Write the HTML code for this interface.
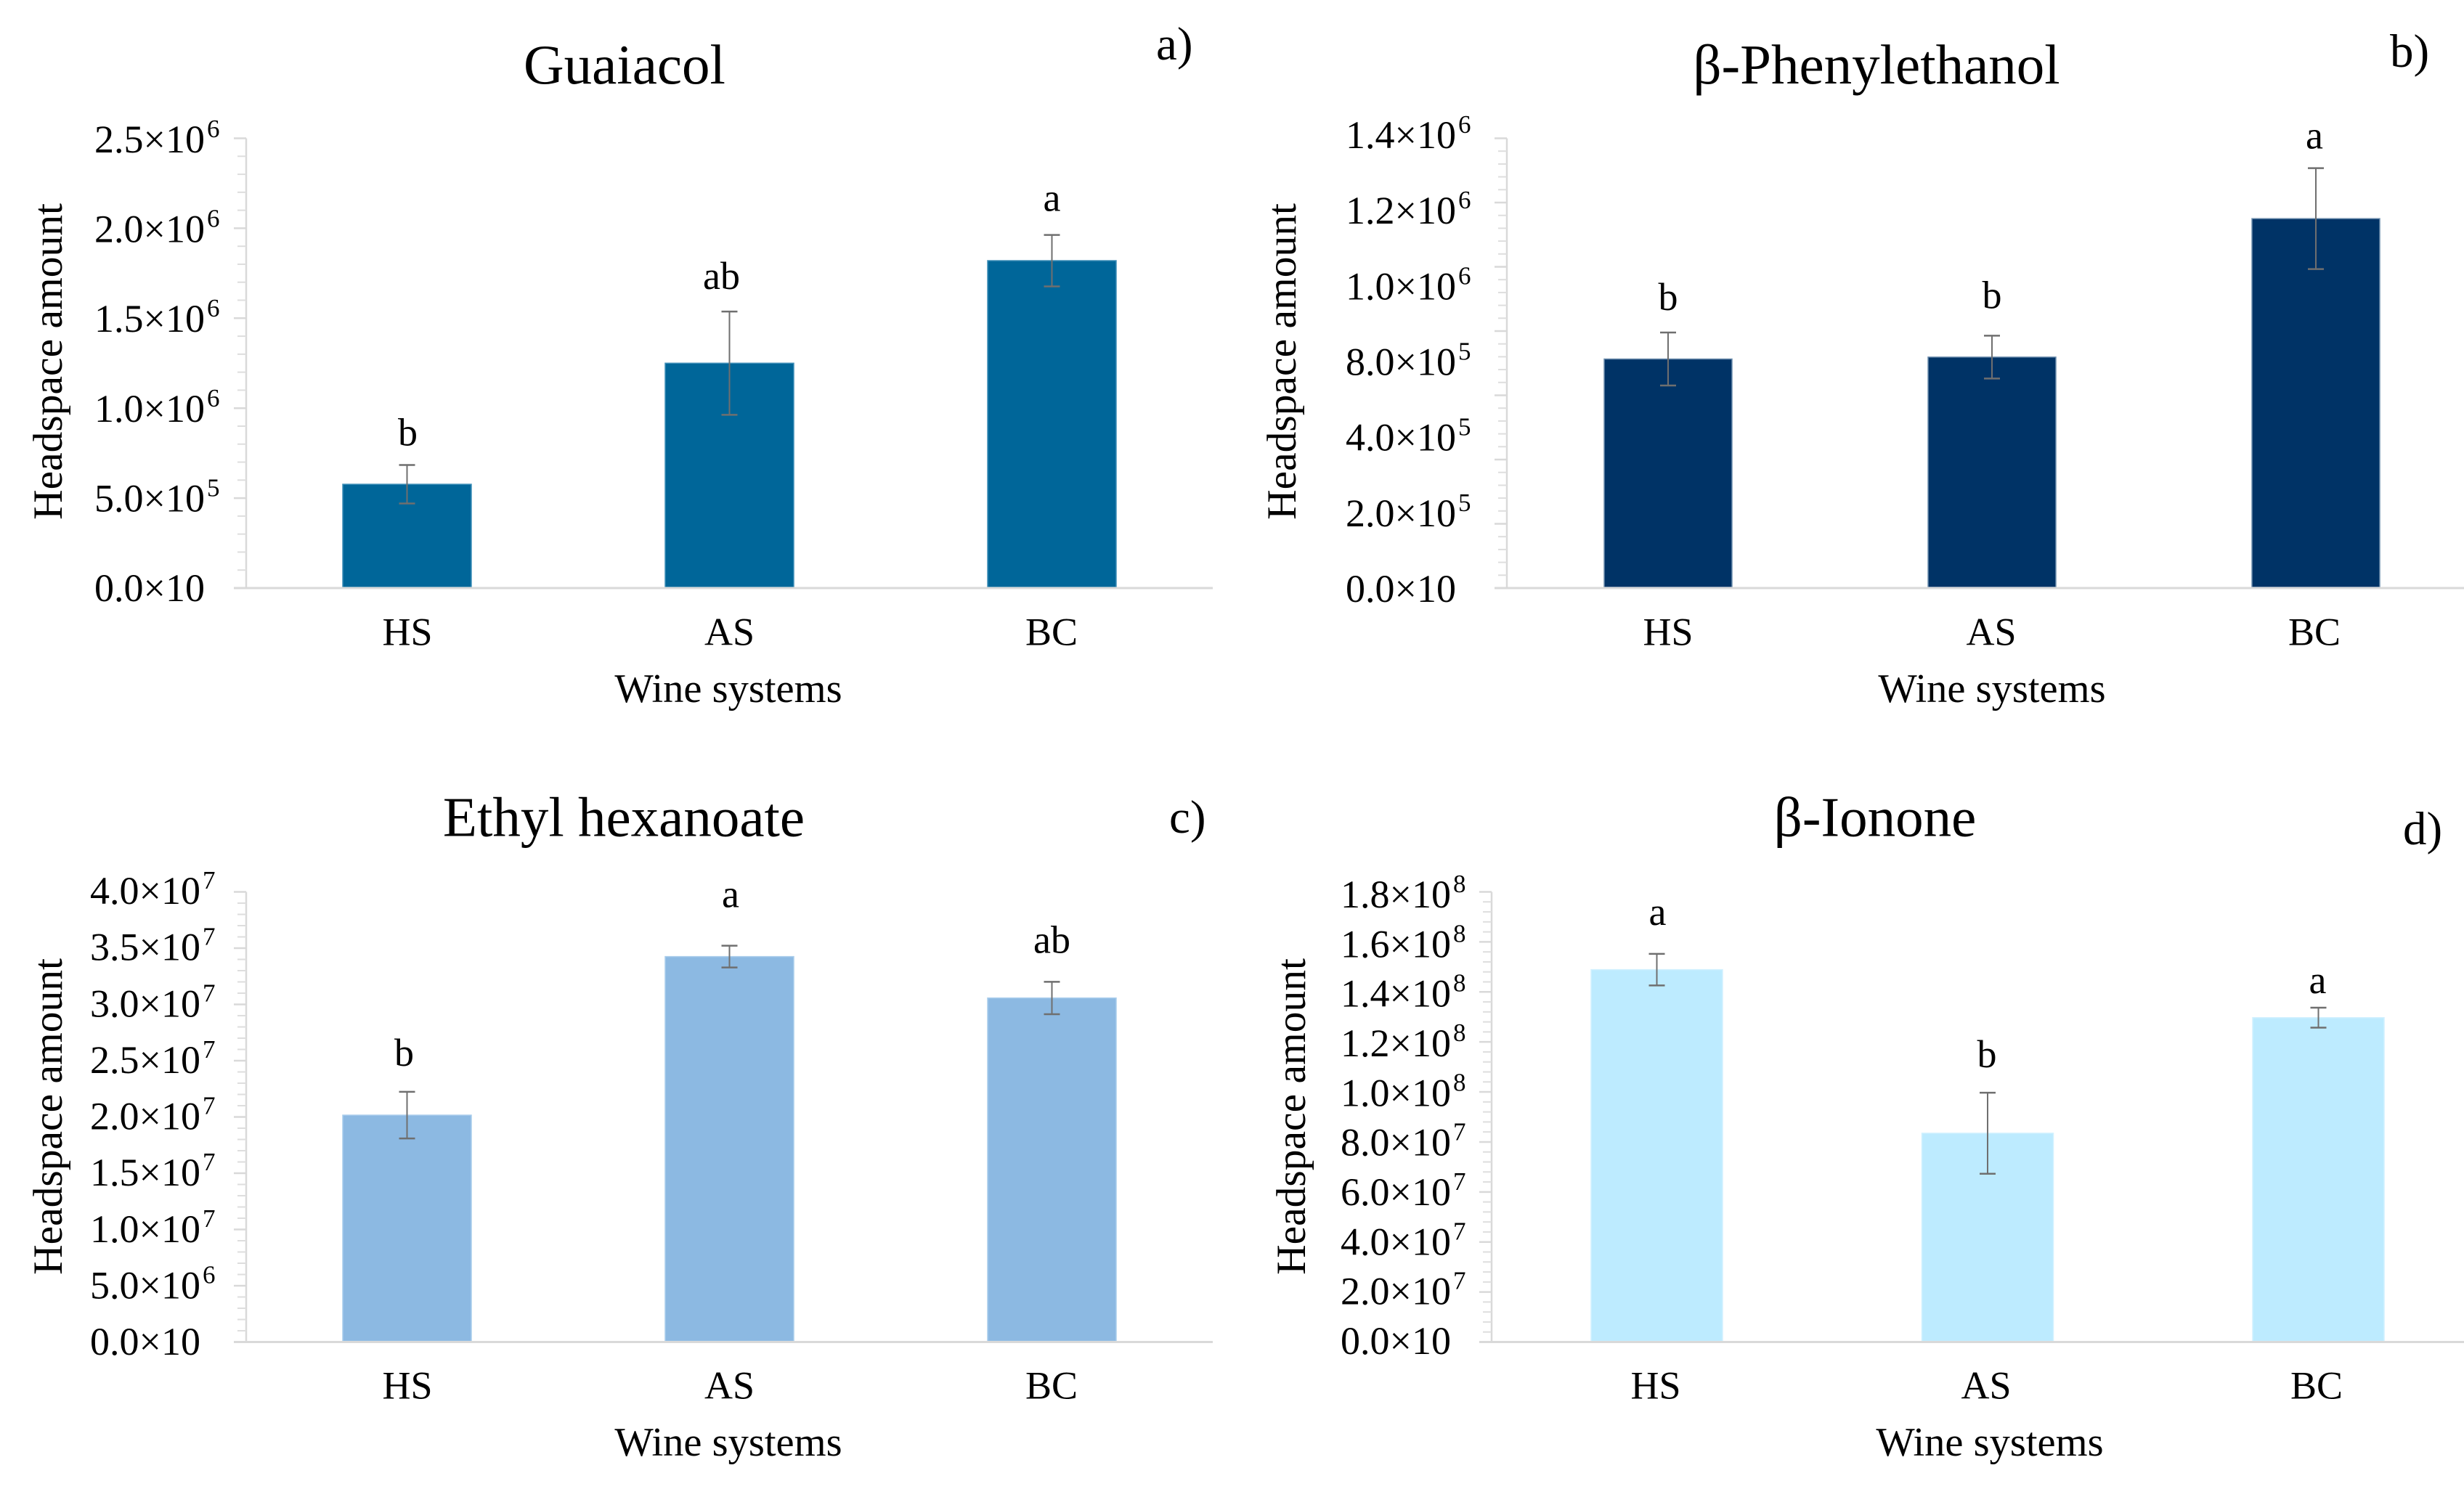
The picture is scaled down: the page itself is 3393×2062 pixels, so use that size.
<!DOCTYPE html>
<html lang="en">
<head>
<meta charset="utf-8">
<title>Headspace amount by wine system</title>
<style>
html,body{margin:0;padding:0;background:#fff;}
svg{display:block;}
text{font-family:"Liberation Serif","DejaVu Serif",serif;fill:#000;}
</style>
</head>
<body>
<svg id="figure" xmlns="http://www.w3.org/2000/svg" width="3393" height="2062" viewBox="0 0 3393 2062"></svg>
<script>
// ---- chart data ----
const categories = ['HS', 'AS', 'BC'];

const guaiacolValues = [5.77e5, 1.25e6, 1.82e6];
const guaiacolErrors = [1.07e5, 2.87e5, 1.43e5];
const guaiacolLetters = ['b', 'ab', 'a'];
const guaiacolTickValues = [0, 5e5, 1e6, 1.5e6, 2e6, 2.5e6];
const guaiacolTickLabels = ['0.0×10', '5.0×10^5', '1.0×10^6', '1.5×10^6', '2.0×10^6', '2.5×10^6'];

const phenylethanolValues = [7.13e5, 7.19e5, 1.15e6];
const phenylethanolErrors = [8.25e4, 6.67e4, 1.57e5];
const phenylethanolLetters = ['b', 'b', 'a'];
const phenylethanolTickValues = [0, 2e5, 4e5, 6e5, 8e5, 1e6, 1.2e6, 1.4e6];
const phenylethanolTickLabels = ['0.0×10', '2.0×10^5', '4.0×10^5', '8.0×10^5', '', '1.0×10^6', '1.2×10^6', '1.4×10^6'];

const hexanoateValues = [2.016e7, 3.425e7, 3.057e7];
const hexanoateErrors = [2.07e6, 9.7e5, 1.44e6];
const hexanoateLetters = ['b', 'a', 'ab'];
const hexanoateTickValues = [0, 5e6, 1e7, 1.5e7, 2e7, 2.5e7, 3e7, 3.5e7, 4e7];
const hexanoateTickLabels = ['0.0×10', '5.0×10^6', '1.0×10^7', '1.5×10^7', '2.0×10^7', '2.5×10^7', '3.0×10^7', '3.5×10^7', '4.0×10^7'];

const iononeValues = [1.489e8, 8.35e7, 1.297e8];
const iononeErrors = [6.3e6, 1.62e7, 4e6];
const iononeLetters = ['a', 'b', 'a'];
const iononeTickValues = [0, 2e7, 4e7, 6e7, 8e7, 1e8, 1.2e8, 1.4e8, 1.6e8, 1.8e8];
const iononeTickLabels = ['0.0×10', '2.0×10^7', '4.0×10^7', '6.0×10^7', '8.0×10^7', '1.0×10^8', '1.2×10^8', '1.4×10^8', '1.6×10^8', '1.8×10^8'];

// ---- panel layout (geometry and styling only) ----
const guaiacolLayout = {
  slug: 'guaiacol', title: 'Guaiacol', tag: 'a)', color: '#006699', edge: '#3f8fb8',
  axisX: 339, axisEnd: 1670, top: 190.5, base: 810, max: 2.5e6, barWidth: 177,
  barLeft: 472, barStep: 444, labelX: 130, labelTop: 210, labelBottom: 828,
  catXs: 561, catStep: 443.5, catBase: 888.5, xTitleX: 1003, xTitleBase: 967,
  yTitleX: 85, yTitleY: 498, titleX: 860, titleBase: 115, tagX: 1592, tagBase: 82,
  letterDx: [1, -11, 0], letterGap: [27, 31, 33]
};
const phenylethanolLayout = {
  slug: 'phenylethanol', title: 'β-Phenylethanol', tag: 'b)', color: '#003366', edge: '#6f8fae',
  axisX: 2075, axisEnd: 3393, top: 190.5, base: 810, max: 1.4e6, barWidth: 176,
  barLeft: 2209, barStep: 446, labelX: 1853, labelTop: 204, labelBottom: 829,
  catXs: 2297, catStep: 445, catBase: 888.5, xTitleX: 2743, xTitleBase: 967,
  yTitleX: 1784, yTitleY: 498, titleX: 2584, titleBase: 115, tagX: 3291, tagBase: 92,
  letterDx: [0, 0, -2], letterGap: [31, 38, 27]
};
const hexanoateLayout = {
  slug: 'ethyl-hexanoate', title: 'Ethyl hexanoate', tag: 'c)', color: '#8CB9E2', edge: '#a9cdec',
  axisX: 339, axisEnd: 1670, top: 1228.5, base: 1848.5, max: 4e7, barWidth: 177,
  barLeft: 472, barStep: 444, labelX: 124, labelTop: 1245, labelBottom: 1866,
  catXs: 561, catStep: 443.5, catBase: 1926.5, xTitleX: 1003, xTitleBase: 2005,
  yTitleX: 85, yTitleY: 1538, titleX: 859, titleBase: 1151.5, tagX: 1610, tagBase: 1147,
  letterDx: [-4, 1.5, 0], letterGap: [36, 53, 40]
};
const iononeLayout = {
  slug: 'beta-ionone', title: 'β-Ionone', tag: 'd)', color: '#BDEBFF', edge: '#d2f1ff',
  axisX: 2054, axisEnd: 3393, top: 1228.5, base: 1848.5, max: 1.8e8, barWidth: 181,
  barLeft: 2191, barStep: 455.5, labelX: 1846, labelTop: 1250, labelBottom: 1865,
  catXs: 2280, catStep: 455, catBase: 1926.5, xTitleX: 2740, xTitleBase: 2005,
  yTitleX: 1797, yTitleY: 1538, titleX: 2582, titleBase: 1151.5, tagX: 3309, tagBase: 1163,
  letterDx: [1, -1, -1], letterGap: [40, 35, 20]
};

const svg = document.getElementById('figure');
const NS = 'http://www.w3.org/2000/svg';

function make(tag, parent, attrs, content) {
  const node = document.createElementNS(NS, tag);
  for (const key in attrs) node.setAttribute(key, attrs[key]);
  if (content !== undefined) node.textContent = content;
  parent.appendChild(node);
  return node;
}

function drawPanel(layout, values, errors, letters, tickValues, tickLabels) {
  const yScale = v => layout.base - (v / layout.max) * (layout.base - layout.top);
  const labelScale = f => layout.labelBottom - f * (layout.labelBottom - layout.labelTop);
  const printed = tickLabels.map((label, i) => ({ label, value: tickValues[i] })).filter(d => d.label);

  const panel = make('g', svg, {});
  
  

  const title = make('text', panel, { x: layout.titleX, y: layout.titleBase, 'text-anchor': 'middle', 'font-size': 77 }, layout.title);
  
  

  const tag = make('text', panel, { x: layout.tagX, y: layout.tagBase, 'font-size': 65 }, layout.tag);
  
  

  const yTitle = make('text', panel, {
    x: 0, y: 0, 'text-anchor': 'middle', 'font-size': 57.5,
    transform: 'translate(' + layout.yTitleX + ' ' + layout.yTitleY + ') rotate(-90)'
  }, 'Headspace amount');
  
  

  const xTitle = make('text', panel, { x: layout.xTitleX, y: layout.xTitleBase, 'text-anchor': 'middle', 'font-size': 56.5 }, 'Wine systems');
  
  

  // y axis: line, major and minor ticks
  const yLine = make('line', panel, { x1: layout.axisX, x2: layout.axisX, y1: layout.top, y2: layout.base, stroke: '#d9d9d9', 'stroke-width': 2.5 });
  
  

  for (let i = 0; i < tickValues.length; i++) {
    const major = make('line', panel, { x1: layout.axisX - 17, x2: layout.axisX, y1: yScale(tickValues[i]), y2: yScale(tickValues[i]), stroke: '#d9d9d9', 'stroke-width': 2.5 });
    
    
    if (i < tickValues.length - 1) {
      const step = (tickValues[i + 1] - tickValues[i]) / 5;
      for (let k = 1; k < 5; k++) {
        const minorY = yScale(tickValues[i] + step * k);
        const minor = make('line', panel, { x1: layout.axisX - 12, x2: layout.axisX, y1: minorY, y2: minorY, stroke: '#dedede', 'stroke-width': 2 });
        
        
      }
    }
  }

  printed.forEach((d, i) => {
    const parts = d.label.split('^');
    const f = printed.length > 1 ? i / (printed.length - 1) : 0;
    const label = make('text', panel, { x: layout.labelX, y: labelScale(f), 'font-size': 54 }, parts[0]);
    
    
    if (parts[1]) {
      const sup = make('tspan', label, { dy: -21, dx: 3, 'font-size': 35 }, parts[1]);
      
      
    }
  });

  // bars, error bars, significance letters, category labels
  categories.forEach((cat, i) => {
    const left = layout.barLeft + i * layout.barStep;
    const cx = left + layout.barWidth / 2;
    const yVal = yScale(values[i]);
    const yHi = yScale(values[i] + errors[i]);
    const yLo = yScale(values[i] - errors[i]);

    const bar = make('rect', panel, { x: left, y: yVal, width: layout.barWidth, height: layout.base - 1 - yVal, fill: layout.color, stroke: layout.edge, 'stroke-width': 1.5 });
    
    

    const errStem = make('line', panel, { x1: cx, x2: cx, y1: yHi, y2: yLo, stroke: '#6f6f6f', 'stroke-width': 2 });
    
    

    const capHi = make('line', panel, { x1: cx - 11, x2: cx + 11, y1: yHi, y2: yHi, stroke: '#6f6f6f', 'stroke-width': 2.5 });
    
    

    const capLo = make('line', panel, { x1: cx - 11, x2: cx + 11, y1: yLo, y2: yLo, stroke: '#6f6f6f', 'stroke-width': 2.5 });
    
    

    const letter = make('text', panel, { x: cx + layout.letterDx[i], y: yHi - layout.letterGap[i], 'text-anchor': 'middle', 'font-size': 54 }, letters[i]);
    
    

    const catLabel = make('text', panel, { x: layout.catXs + i * layout.catStep, y: layout.catBase, 'text-anchor': 'middle', 'font-size': 54 }, cat);
    
    
  });

  const xLine = make('line', panel, { x1: layout.axisX - 17, x2: layout.axisEnd, y1: layout.base, y2: layout.base, stroke: '#d9d9d9', 'stroke-width': 3 });
  
  
}

drawPanel(guaiacolLayout, guaiacolValues, guaiacolErrors, guaiacolLetters, guaiacolTickValues, guaiacolTickLabels);
drawPanel(phenylethanolLayout, phenylethanolValues, phenylethanolErrors, phenylethanolLetters, phenylethanolTickValues, phenylethanolTickLabels);
drawPanel(hexanoateLayout, hexanoateValues, hexanoateErrors, hexanoateLetters, hexanoateTickValues, hexanoateTickLabels);
drawPanel(iononeLayout, iononeValues, iononeErrors, iononeLetters, iononeTickValues, iononeTickLabels);
</script>
</body>
</html>
